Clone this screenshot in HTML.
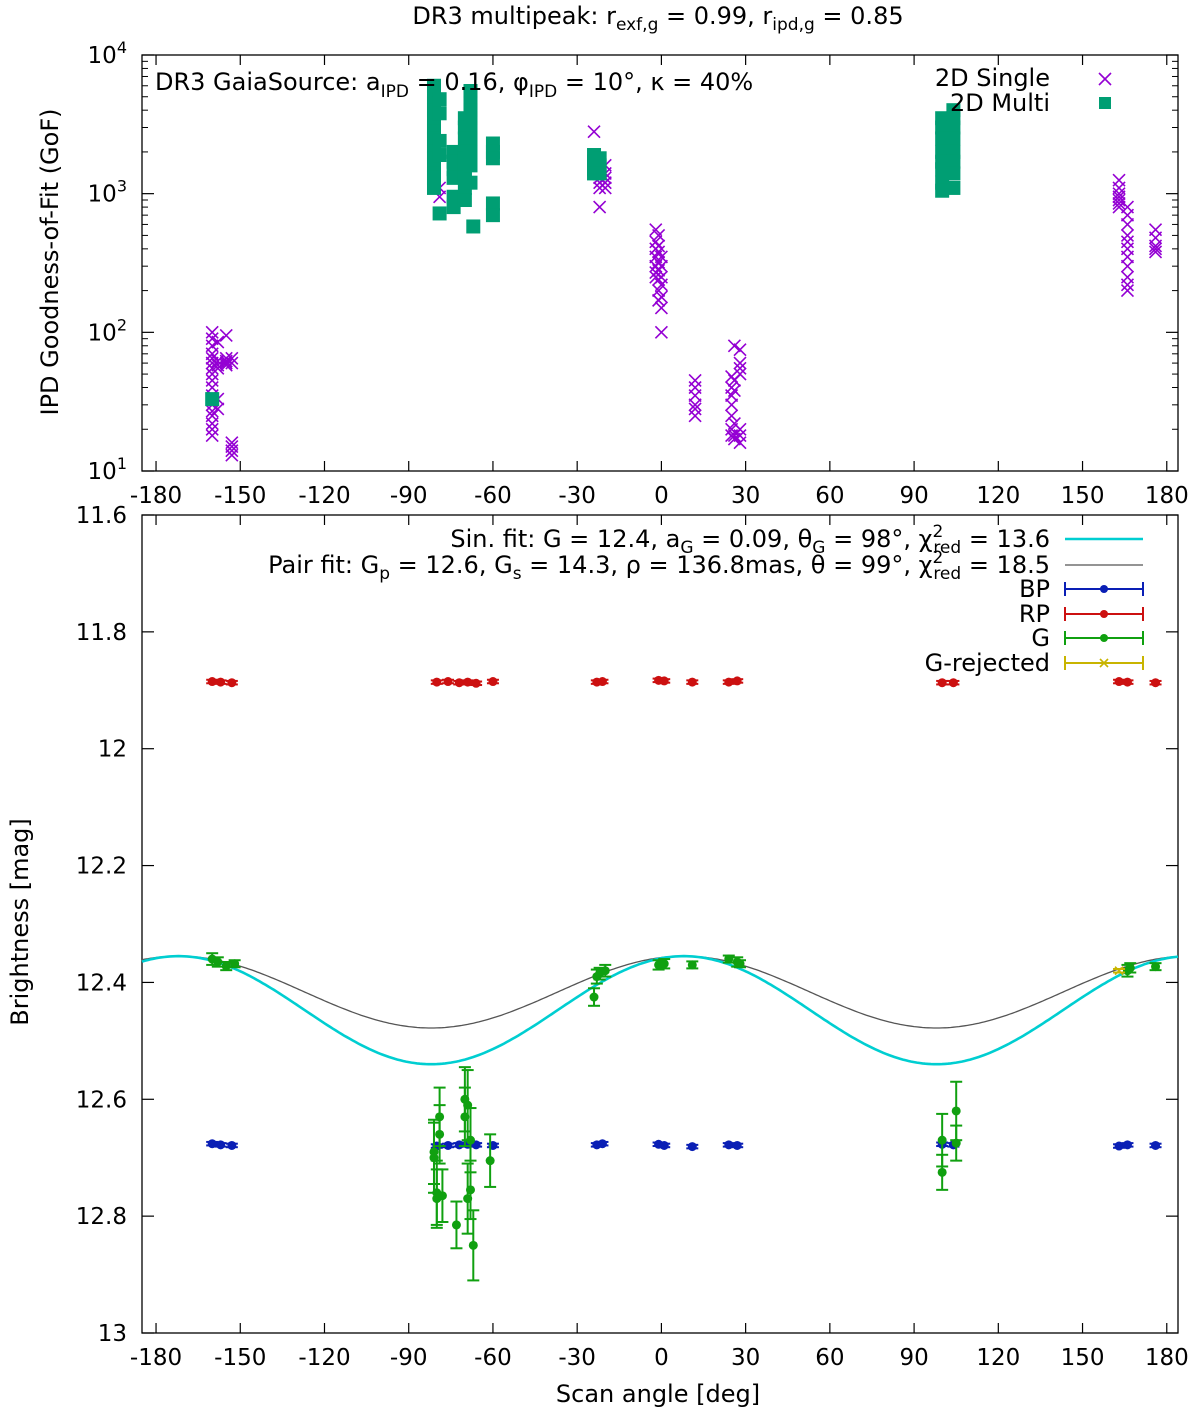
<!DOCTYPE html>
<html><head><meta charset="utf-8"><style>
html,body{margin:0;padding:0;background:#fff}
svg{display:block;font-family:"DejaVu Sans","Liberation Sans",sans-serif}
</style></head><body>
<svg id="chart" width="1200" height="1419" viewBox="0 0 1200 1419" xmlns="http://www.w3.org/2000/svg">
<text x="658" y="24" font-size="24" text-anchor="middle">DR3 multipeak: r<tspan font-size="17" dy="6">exf,g</tspan><tspan dy="-6"> = 0.99, r</tspan><tspan font-size="17" dy="6">ipd,g</tspan><tspan dy="-6"> = 0.85</tspan></text>
<g id="topPanel"></g>
<g id="botPanel"></g>
<text x="155" y="90" font-size="24">DR3 GaiaSource: a<tspan font-size="17" dy="7">IPD</tspan><tspan dy="-7"> = 0.16, φ</tspan><tspan font-size="17" dy="7">IPD</tspan><tspan dy="-7"> = 10°, κ = 40%</tspan></text>
<text transform="translate(58,262) rotate(-90)" font-size="24" text-anchor="middle">IPD Goodness-of-Fit (GoF)</text>
<text transform="translate(28,922) rotate(-90)" font-size="24" text-anchor="middle">Brightness [mag]</text>
<text x="658" y="1402" font-size="24" text-anchor="middle">Scan angle [deg]</text>
</svg>
<script>
// ---- Data ----
const xTicks=[-180,-150,-120,-90,-60,-30,0,30,60,90,120,150,180];
const gofTickExp=[1,2,3,4];
const magTicks=[11.6,11.8,12,12.2,12.4,12.6,12.8,13];
const magTickLabels=["11.6","11.8","12","12.2","12.4","12.6","12.8","13"];
const singleAngle=[-160,-160,-160,-160,-160,-160,-160,-160,-160,-160,-160,-160,-160,-160,-160,-160,-160,
 -158,-158,-158,-158,-158,-158,-155,-155,-155,-155,-155,-153,-153,-153,-153,-153,-153,
 -79,-79,-24,-24,-24,-22,-22,-22,-22,-22,-22,-20,-20,-20,-20,-20,
 -2,-2,-2,-2,-2,-2,-2,-1,-1,-1,-1,-1,-1,-1,-1,0,0,0,0,0,0,0,
 12,12,12,12,12,12,25,25,25,25,25,25,25,26,26,26,26,26,26,28,28,28,28,28,28,28,
 163,163,163,163,163,163,163,166,166,166,166,166,166,166,166,166,166,166,176,176,176,176,176];
const singleGof=[100,90,80,70,65,60,55,50,45,40,35,30,27,25,22,20,18,
 85,62,58,55,33,28,95,65,60,58,62,65,60,15,14,13,16,
 950,1100,2800,1900,1700,1800,1500,1300,1200,1100,800,1600,1400,1200,1100,1300,
 550,450,400,350,300,270,250,500,420,380,320,280,240,200,170,100,150,180,220,350,300,250,
 45,40,35,30,28,25,35,30,25,20,18,48,40,80,45,38,22,18,17,60,55,50,75,20,18,16,
 1250,1100,1000,950,900,850,800,800,700,600,500,450,400,350,300,250,220,200,550,480,420,400,380];
const multiAngle=[-160,-81,-81,-81,-81,-81,-81,-81,-81,-81,-81,-81,-81,-81,-81,-81,
 -79,-79,-79,-79,-79,-74,-74,-74,-74,-74,-74,-70,-70,-70,-70,-70,-70,-70,-70,-70,
 -68,-68,-68,-68,-68,-68,-68,-68,-68,-60,-60,-60,-60,-60,-67,
 -24,-24,-24,-24,-22,-22,-22,100,100,100,100,100,100,100,100,104,104,104,104,104,104,104,104];
const multiGof=[33,6000,5000,4500,4000,3500,3000,2800,2500,2200,2000,1800,1600,1400,1300,1100,
 720,4800,3800,2400,1900,2000,1700,1500,1300,950,800,3500,3000,2500,2000,1800,1500,1300,1100,900,
 5500,4500,4000,3500,3000,2500,2000,1600,1200,2300,2000,1800,850,700,580,
 1900,1700,1500,1400,1800,1600,1400,3500,3000,2500,2000,1700,1500,1200,1050,4000,3500,3000,2500,2000,1700,1400,1100];
const bpAngle=[-160,-157,-153,-80,-76,-72,-69,-66,-60,-23,-21,-1,1,11,24,27,100,104,163,166,176];
const bpMag=[12.676,12.678,12.679,12.680,12.679,12.678,12.677,12.678,12.679,12.678,12.676,12.677,12.679,12.681,12.678,12.679,12.677,12.678,12.680,12.678,12.679];
const rpAngle=[-160,-157,-153,-80,-76,-72,-69,-66,-60,-23,-21,-1,1,11,24,27,100,104,163,166,176];
const rpMag=[11.885,11.886,11.887,11.886,11.885,11.887,11.886,11.888,11.885,11.886,11.885,11.883,11.884,11.886,11.886,11.884,11.887,11.887,11.885,11.886,11.887];
const gAngle=[-160,-158,-155,-152,-81,-81,-80,-80,-79,-79,-78,-73,-70,-70,-69,-69,-68,-68,-67,-61,
 -24,-23,-22,-20,-1,1,11,24,27,28,100,100,105,105,166,167,176];
const gMag=[12.36,12.365,12.372,12.368,12.70,12.69,12.76,12.77,12.63,12.66,12.765,12.815,12.63,12.60,12.61,12.77,12.67,12.755,12.85,12.705,
 12.425,12.39,12.385,12.38,12.37,12.368,12.37,12.36,12.365,12.368,12.67,12.725,12.62,12.675,12.38,12.375,12.373];
const gErr=[0.01,0.008,0.007,0.006,0.06,0.055,0.055,0.05,0.05,0.05,0.045,0.04,0.05,0.055,0.06,0.06,0.055,0.05,0.06,0.045,
 0.015,0.012,0.01,0.01,0.008,0.008,0.006,0.006,0.008,0.006,0.045,0.03,0.05,0.03,0.01,0.008,0.006];
const rejAngle=[163];
const rejMag=[12.38];
const sinFitParams=[12.4475,0.0925,98];
const pairFitParams=[12.4165,0.0615,98];

// ---- Axes ----
const X0=142,X1=1178,XMIN=-185,XMAX=184;
const sx=v=>X0+(v-XMIN)/(XMAX-XMIN)*(X1-X0);
const TY0=55,TY1=471;
const syTop=g=>TY1-(Math.log10(g)-1)/3*(TY1-TY0);
const BY0=515,BY1=1333;
const syBot=m=>BY0+(m-11.6)/1.4*(BY1-BY0);
const NS="http://www.w3.org/2000/svg";
function mk(parent,tag,attrs){const e=document.createElementNS(NS,tag);for(const k in attrs)e.setAttribute(k,attrs[k]);parent.appendChild(e);return e;}
const topG=document.getElementById('topPanel'),botG=document.getElementById('botPanel');

function frame(g,y0,y1,name){
  const r=mk(g,'rect',{x:X0,y:y0,width:X1-X0,height:y1-y0,fill:'none',stroke:'#000','stroke-width':1.3});
  
  
  xTicks.forEach(t=>{
    const x=sx(t);
    mk(g,'line',{x1:x,x2:x,y1:y1,y2:y1-10,stroke:'#000','stroke-width':1.2});
    mk(g,'line',{x1:x,x2:x,y1:y0,y2:y0+10,stroke:'#000','stroke-width':1.2});
    const tx=mk(g,'text',{x:x,y:y1+32,'font-size':23,'text-anchor':'middle'});
    tx.textContent=t;
    
    
  });
}
frame(topG,TY0,TY1,'gof-plot-frame');
frame(botG,BY0,BY1,'brightness-plot-frame');

gofTickExp.forEach(e=>{
  const y=syTop(Math.pow(10,e));
  mk(topG,'line',{x1:X0,x2:X0+12,y1:y,y2:y,stroke:'#000','stroke-width':1.2});
  mk(topG,'line',{x1:X1,x2:X1-12,y1:y,y2:y,stroke:'#000','stroke-width':1.2});
  const t=mk(topG,'text',{x:127,y:y+8,'font-size':23,'text-anchor':'end'});
  t.innerHTML='10<tspan font-size="16" dy="-10">'+e+'</tspan>';
  
  
  if(e<4){for(let k=2;k<=9;k++){const yy=syTop(k*Math.pow(10,e));
    mk(topG,'line',{x1:X0,x2:X0+6,y1:yy,y2:yy,stroke:'#000','stroke-width':1});
    mk(topG,'line',{x1:X1,x2:X1-6,y1:yy,y2:yy,stroke:'#000','stroke-width':1});}}
});
magTicks.forEach((m,i)=>{
  const y=syBot(m);
  mk(botG,'line',{x1:X0,x2:X0+12,y1:y,y2:y,stroke:'#000','stroke-width':1.2});
  mk(botG,'line',{x1:X1,x2:X1-12,y1:y,y2:y,stroke:'#000','stroke-width':1.2});
  const t=mk(botG,'text',{x:127,y:y+8,'font-size':23,'text-anchor':'end'});
  t.textContent=magTickLabels[i];
  
  
});

// ---- Top markers ----
function cross(g,x,y,s,col){mk(g,'path',{d:`M${x-s} ${y-s}L${x+s} ${y+s}M${x-s} ${y+s}L${x+s} ${y-s}`,stroke:col,'stroke-width':1.6,fill:'none'});}
singleAngle.forEach((a,i)=>{
  const g=mk(topG,'g',{});
  
  
  cross(g,sx(a),syTop(singleGof[i]),6,'#9400d3');
});
multiAngle.forEach((a,i)=>{
  const r=mk(topG,'rect',{x:sx(a)-7,y:syTop(multiGof[i])-7,width:14,height:14,fill:'#009e73'});
  
  
});
const tl1=mk(topG,'text',{x:1050,y:86,'font-size':24,'text-anchor':'end'});tl1.textContent='2D Single';


cross(topG,1105,79,6,'#9400d3');
const tl2=mk(topG,'text',{x:1050,y:111,'font-size':24,'text-anchor':'end'});tl2.textContent='2D Multi';


mk(topG,'rect',{x:1099,y:97,width:12,height:12,fill:'#009e73'});

// ---- Bottom curves ----
function curve(p,col,w,name){
  let d='';
  for(let a=XMIN;a<=XMAX;a+=1){const m=p[0]+p[1]*Math.cos(2*(a-p[2])*Math.PI/180);d+=(d?'L':'M')+sx(a).toFixed(1)+' '+syBot(m).toFixed(1);}
  const e=mk(botG,'path',{d:d,stroke:col,'stroke-width':w,fill:'none'});
  
  
}
curve(pairFitParams,'#555',1.3,'pair-fit-curve');
curve(sinFitParams,'#00ced1',2.6,'sin-fit-curve');

function errPt(g,x,y,yl,yh,col,marker){
  mk(g,'line',{x1:x,x2:x,y1:yl,y2:yh,stroke:col,'stroke-width':2});
  mk(g,'line',{x1:x-6,x2:x+6,y1:yl,y2:yl,stroke:col,'stroke-width':2});
  mk(g,'line',{x1:x-6,x2:x+6,y1:yh,y2:yh,stroke:col,'stroke-width':2});
  if(marker==='dot')mk(g,'circle',{cx:x,cy:y,r:4.5,fill:col});
  else cross(g,x,y,4,col);
}
function series(ang,mag,err,col,name,marker){
  ang.forEach((a,i)=>{
    const g=mk(botG,'g',{});
    
    
    const e=err?err[i]:0.003;
    errPt(g,sx(a),syBot(mag[i]),syBot(mag[i]-e),syBot(mag[i]+e),col,marker);
  });
}
series(bpAngle,bpMag,null,'#0a1fb5','bp-point','dot');
series(rpAngle,rpMag,null,'#cc1010','rp-point','dot');
series(gAngle,gMag,gErr,'#10a010','g-point','dot');
series(rejAngle,rejMag,null,'#c8b400','g-rejected-point','x');

const leg=[
 ['Sin. fit: G = 12.4, a<tspan font-size="17" dy="6">G</tspan><tspan dy="-6"> = 0.09, θ</tspan><tspan font-size="17" dy="6">G</tspan><tspan dy="-6"> = 98°, χ</tspan><tspan font-size="17" dy="-10">2</tspan><tspan font-size="17" dx="-10" dy="16">red</tspan><tspan dy="-6"> =  13.6</tspan>',539,'line','#00ced1',2.6,'legend-sin-fit'],
 ['Pair fit: G<tspan font-size="17" dy="6">p</tspan><tspan dy="-6"> = 12.6, G</tspan><tspan font-size="17" dy="6">s</tspan><tspan dy="-6"> = 14.3, ρ = 136.8mas, θ = 99°, χ</tspan><tspan font-size="17" dy="-10">2</tspan><tspan font-size="17" dx="-10" dy="16">red</tspan><tspan dy="-6"> =  18.5</tspan>',565,'line','#555',1.3,'legend-pair-fit'],
 ['BP',589,'err','#0a1fb5',0,'legend-bp'],
 ['RP',614,'err','#cc1010',0,'legend-rp'],
 ['G',638,'err','#10a010',0,'legend-g'],
 ['G-rejected',663,'errx','#c8b400',0,'legend-g-rejected']];
leg.forEach(l=>{
  const t=mk(botG,'text',{x:1050,y:l[1]+8,'font-size':24,'text-anchor':'end','xml:space':'preserve'});
  t.innerHTML=l[0];
  
  
  if(l[2]==='line')mk(botG,'line',{x1:1065,x2:1143,y1:l[1],y2:l[1],stroke:l[3],'stroke-width':l[4]});
  else{
    mk(botG,'line',{x1:1065,x2:1143,y1:l[1],y2:l[1],stroke:l[3],'stroke-width':2});
    mk(botG,'line',{x1:1065,x2:1065,y1:l[1]-7,y2:l[1]+7,stroke:l[3],'stroke-width':2});
    mk(botG,'line',{x1:1143,x2:1143,y1:l[1]-7,y2:l[1]+7,stroke:l[3],'stroke-width':2});
    if(l[2]==='err')mk(botG,'circle',{cx:1104,cy:l[1],r:4,fill:l[3]});else cross(botG,1104,l[1],4,l[3]);
  }
});
</script>
</body></html>
